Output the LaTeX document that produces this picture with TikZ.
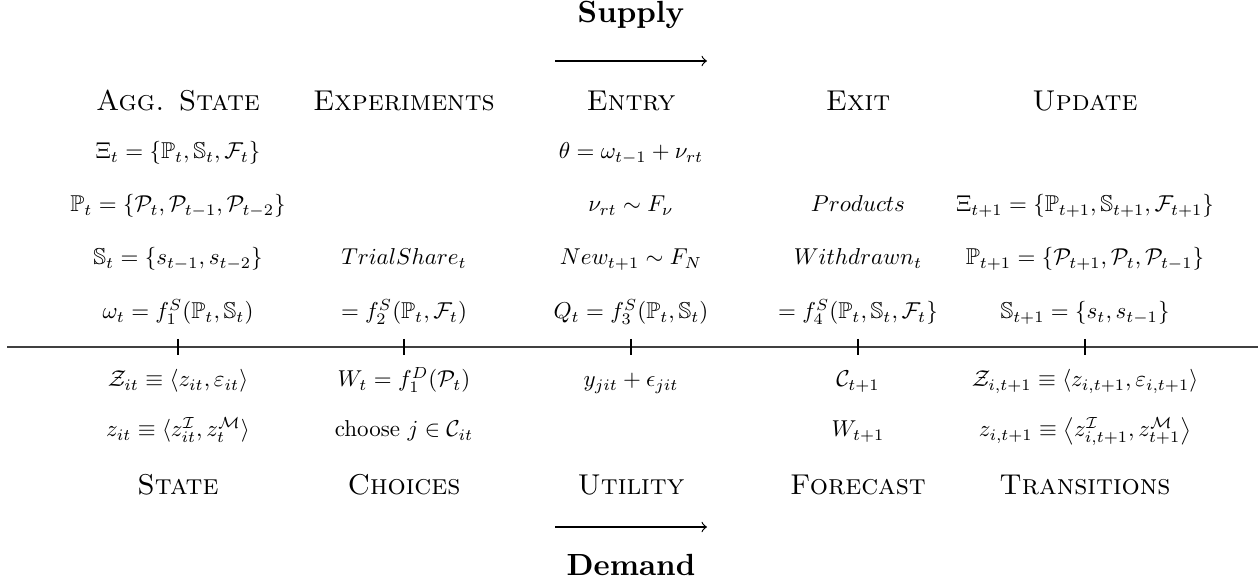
\documentclass[tikz,border=0pt]{standalone}
\usepackage{amsmath,amssymb}
\begin{document}
\begin{tikzpicture}[x=0.3333pt,y=-0.3333pt,
  lbl/.style={anchor=base,inner sep=0pt,outer sep=0pt,scale=0.765},
  hdr/.style={anchor=base,inner sep=0pt,outer sep=0pt,scale=0.955,font=\scshape},
  ttl/.style={anchor=base,inner sep=0pt,outer sep=0pt,scale=1.02,font=\bfseries},
  axis/.style={line width=0.65pt,black!75},
  tick/.style={line width=0.4pt,black},
  flow/.style={line width=0.4pt,-to}]
\useasboundingbox (0,0) rectangle (1258,586);
% titles and arrows
\node[ttl] (supply) at (631,23) {Supply};
\coordinate (sa1) at (555,61); \coordinate (sa2) at (707,61);
\draw[flow] (sa1) -- (sa2);
\node[ttl] (demand) at (631,575) {Demand};
\coordinate (da1) at (555,527); \coordinate (da2) at (707,527);
\draw[flow] (da1) -- (da2);
% top headers
\node[hdr] (h1) at (178,111) {Agg. State};
\node[hdr] (h2) at (404,111) {Experiments};
\node[hdr] (h3) at (631,111) {Entry};
\node[hdr] (h4) at (858,111) {Exit};
\node[hdr] (h5) at (1085,111) {Update};
% supply rows
\node[lbl] (a1) at (178,159) {$\Xi_t = \{\mathbb{P}_t, \mathbb{S}_t, \mathcal{F}_t\}$};
\node[lbl] (a2) at (178,212) {$\mathbb{P}_t = \{\mathcal{P}_t, \mathcal{P}_{t-1}, \mathcal{P}_{t-2}\}$};
\node[lbl] (a3) at (178,265) {$\mathbb{S}_t = \{s_{t-1}, s_{t-2}\}$};
\node[lbl] (a4) at (178,319) {$\omega_t = f_1^S(\mathbb{P}_t, \mathbb{S}_t)$};
\node[lbl] (b3) at (404,265) {$TrialShare_t$};
\node[lbl] (b4) at (404,319) {$= f_2^S(\mathbb{P}_t, \mathcal{F}_t)$};
\node[lbl] (c1) at (631,159) {$\theta = \omega_{t-1} + \nu_{rt}$};
\node[lbl] (c2) at (631,212) {$\nu_{rt} \sim F_\nu$};
\node[lbl] (c3) at (631,265) {$New_{t+1} \sim F_N$};
\node[lbl] (c4) at (631,319) {$Q_t = f_3^S(\mathbb{P}_t, \mathbb{S}_t)$};
\node[lbl] (d2) at (858,212) {$Products$};
\node[lbl] (d3) at (858,265) {$Withdrawn_t$};
\node[lbl] (d4) at (858,319) {$= f_4^S(\mathbb{P}_t, \mathbb{S}_t, \mathcal{F}_t\}$};
\node[lbl] (e2) at (1085,212) {$\Xi_{t+1} = \{\mathbb{P}_{t+1}, \mathbb{S}_{t+1}, \mathcal{F}_{t+1}\}$};
\node[lbl] (e3) at (1085,265) {$\mathbb{P}_{t+1} = \{\mathcal{P}_{t+1}, \mathcal{P}_{t}, \mathcal{P}_{t-1}\}$};
\node[lbl] (e4) at (1085,319) {$\mathbb{S}_{t+1} = \{s_t, s_{t-1}\}$};
% axis
\coordinate (axL) at (7,347); \coordinate (axR) at (1258,347);
\draw[axis] (axL) -- (axR);
\foreach \x/\n in {178/1,404/2,631/3,858/4,1085/5}{
  \coordinate (tu\n) at (\x,339); \coordinate (td\n) at (\x,355);
  \draw[tick] (tu\n) -- (td\n);
}
% demand rows
\node[lbl] (f1) at (178,387) {$\mathcal{Z}_{it} \equiv \langle z_{it}, \varepsilon_{it}\rangle$};
\node[lbl] (f2) at (178,437) {$z_{it} \equiv \langle z^{\mathcal{I}}_{it}, z^{\mathcal{M}}_{t}\rangle$};
\node[lbl] (g1) at (404,387) {$W_t = f_1^D(\mathcal{P}_t)$};
\node[lbl] (g2) at (404,437) {choose $j \in \mathcal{C}_{it}$};
\node[lbl] (k1) at (631,387) {$y_{jit} + \epsilon_{jit}$};
\node[lbl] (m1) at (858,387) {$\mathcal{C}_{t+1}$};
\node[lbl] (m2) at (858,437) {$W_{t+1}$};
\node[lbl] (n1) at (1085,387) {$\mathcal{Z}_{i,t+1} \equiv \langle z_{i,t+1}, \varepsilon_{i,t+1}\rangle$};
\node[lbl] (n2) at (1085,437) {$z_{i,t+1} \equiv \left\langle z^{\mathcal{I}}_{i,t+1}, z^{\mathcal{M}}_{t+1}\right\rangle$};
% bottom headers
\node[hdr] (q1) at (178,495) {State};
\node[hdr] (q2) at (404,495) {Choices};
\node[hdr] (q3) at (631,495) {Utility};
\node[hdr] (q4) at (858,495) {Forecast};
\node[hdr] (q5) at (1085,495) {Transitions};
\end{tikzpicture}
\end{document}
